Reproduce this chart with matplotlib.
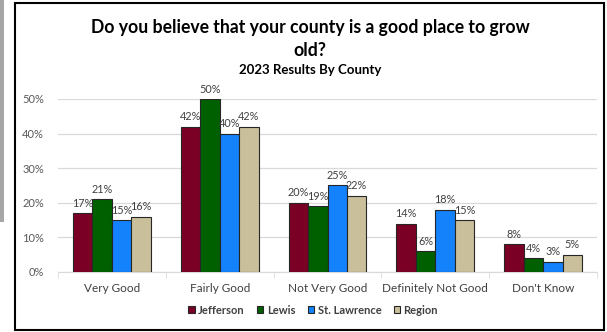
import matplotlib
matplotlib.use("Agg")
import matplotlib.pyplot as plt
import matplotlib.patches as mpatches
from matplotlib.ticker import PercentFormatter
import numpy as np

categories = ["Very Good", "Fairly Good", "Not Very Good", "Definitely Not Good", "Don't Know"]
series_names = ["Jefferson", "Lewis", "St. Lawrence", "Region"]
jefferson = [17, 42, 20, 14, 8]
lewis = [21, 50, 19, 6, 4]
st_lawrence = [15, 40, 25, 18, 3]
region = [16, 42, 22, 15, 5]
yticks = [0, 10, 20, 30, 40, 50]

colors = ["#7B0026", "#006000", "#1482FA", "#C9BF9A"]
FONT = "Lato"
plt.rcParams['font.family'] = [FONT, 'DejaVu Sans']

fig = plt.figure(figsize=(6.07, 3.32), dpi=100)
W, H = 607, 332
ax = fig.add_axes([58 / W, 1 - 272 / H, (597 - 58) / W, (272 - 99) / H])

x = np.arange(len(categories))
bw = 0.18
data = [jefferson, lewis, st_lawrence, region]
for i, (name, vals, c) in enumerate(zip(series_names, data, colors)):
    pos = x + (i - 1.5) * bw
    ax.bar(pos, vals, bw, color=c, edgecolor="#262626", linewidth=0.8, label=name, zorder=3)
    for px, v in zip(pos, vals):
        ax.text(px, v + 1.3, f"{v}%", ha="center", va="bottom", fontsize=7.8,
                color="#404040", zorder=4, clip_on=False)

ax.set_xlim(-0.5, len(categories) - 0.5)
ax.set_ylim(0, 50)
ax.set_yticks(yticks)
ax.yaxis.set_major_formatter(PercentFormatter(decimals=0))
ax.set_xticks(x)
ax.set_xticklabels(categories)
ax.set_xticks(np.arange(-0.5, len(categories), 1), minor=True)
ax.tick_params(axis="x", which="major", length=0, pad=8, labelsize=8.5, labelcolor="#404040")
ax.tick_params(axis="x", which="minor", length=4, color="#D9D9D9", direction="out")
ax.tick_params(axis="y", length=0, pad=10, labelsize=8, labelcolor="#595959")
ax.grid(axis="y", color="#D9D9D9", linewidth=0.9, zorder=0)
for s in ["top", "right", "left"]:
    ax.spines[s].set_visible(False)
ax.spines["bottom"].set_color("#D9D9D9")

leg = fig.legend(loc="center", bbox_to_anchor=(313 / W, 1 - 310 / H), ncol=4, frameon=False,
                 fontsize=8, handlelength=0.6, handleheight=0.6, handletextpad=0.3,
                 columnspacing=1.1)
for t in leg.get_texts():
    t.set_color("#404040")
    t.set_fontweight("bold")

fig.text(310 / W, 1 - 27 / H, "Do you believe that your county is a good place to grow",
         ha="center", va="center", fontsize=12.7, fontweight="bold", color="#000000")
fig.text(310 / W, 1 - 50 / H, "old?", ha="center", va="center", fontsize=12.7,
         fontweight="bold", color="#000000")
fig.text(310 / W, 1 - 70 / H, "2023 Results By County", ha="center", va="center",
         fontsize=9.5, fontweight="bold", color="#000000")

# frame and left strip
fig.patches.append(mpatches.Rectangle((14.5 / W, 2.5 / H), (604 - 14.5) / W, (329.5 - 3) / H,
                                      transform=fig.transFigure, fill=False,
                                      edgecolor="#000000", linewidth=1.5))
fig.patches.append(mpatches.Rectangle((0, 1 - 222 / H), 4 / W, 222 / H,
                                      transform=fig.transFigure, facecolor="#A6A6A6",
                                      edgecolor="none"))

fig.savefig("out.png", dpi=100)
